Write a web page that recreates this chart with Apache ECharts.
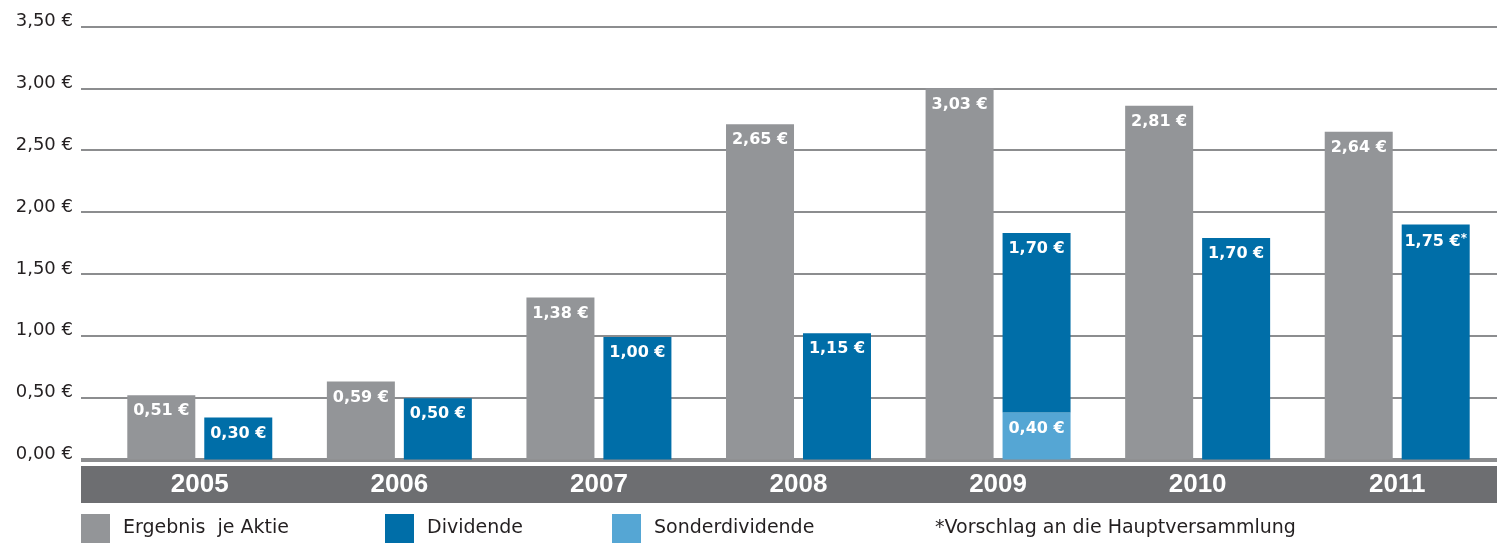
<!DOCTYPE html>
<html>
<head>
<meta charset="utf-8">
<script src="https://cdn.jsdelivr.net/npm/echarts@6/dist/echarts.min.js"></script>
<style>
  html, body { margin: 0; padding: 0; background: #ffffff; }
  #chart { width: 1497px; height: 543px; }
</style>
</head>
<body>
<div id="chart"></div>
<script>
// Categories
const years = ['2005', '2006', '2007', '2008', '2009', '2010', '2011'];

// Bar heights as drawn in the picture (EUR)
const ergebnis = [0.52, 0.63, 1.31, 2.71, 3.00, 2.86, 2.65];
const dividende = [0.34, 0.495, 0.99, 1.02, 1.45, 1.79, 1.90];
const sonderdividende = [null, null, null, null, 0.38, null, null];

// Printed value labels
const ergebnisLabels = ['0,51 €', '0,59 €', '1,38 €', '2,65 €', '3,03 €', '2,81 €', '2,64 €'];
const dividendeLabels = ['0,30 €', '0,50 €', '1,00 €', '1,15 €', '1,70 €', '1,70 €', '1,75 €*'];
const sonderLabels = ['', '', '', '', '0,40 €', '', ''];

// Y axis tick labels
const yTickLabels = ['0,00 €', '0,50 €', '1,00 €', '1,50 €', '2,00 €', '2,50 €', '3,00 €', '3,50 €'];

const legendNames = ['Ergebnis  je Aktie', 'Dividende', 'Sonderdividende'];
const footnote = '*Vorschlag an die Hauptversammlung';

const GRAY = '#939598';
const BLUE = '#006ea8';
const LIGHT = '#55a6d4';
const GRID = '#8c8d8f';
const BAND = '#6d6e71';
const TEXT = '#231f20';

const chart = echarts.init(document.getElementById('chart'), null, { renderer: 'canvas' });

function barLabel(labels) {
  return {
    show: true,
    position: 'insideTop',
    distance: 8,
    formatter: function (p) {
      const t = labels[p.dataIndex];
      if (!t) return '';
      if (t.endsWith('*')) return '{a|' + t.slice(0, -1) + '}{s|*}';
      return '{a|' + t + '}';
    },
    rich: {
      a: { color: '#ffffff', fontFamily: 'DejaVu Sans', fontWeight: 'bold', fontSize: 16 },
      s: { color: '#ffffff', fontFamily: 'DejaVu Sans', fontWeight: 'bold', fontSize: 12, padding: [0, 0, 7, 0] }
    }
  };
}

function legendBox(name, left) {
  return {
    data: [name], left: left, top: 514, padding: 0, icon: 'rect',
    itemWidth: 29, itemHeight: 29, selectedMode: false,
    textStyle: { color: TEXT, fontFamily: 'DejaVu Sans', fontSize: 19, padding: [0, 0, 0, 8] }
  };
}

const option = {
  animation: false,
  backgroundColor: '#ffffff',
  grid: [
    { left: 81, right: 0, top: 26.5, bottom: 83.5 },
    { left: 100, right: 0, top: 26.5, bottom: 83.5 },
    { left: 81, right: 0, top: 466, height: 37, show: true, backgroundColor: BAND, borderWidth: 0, z: -1 }
  ],
  xAxis: [
    {
      gridIndex: 0, type: 'category', data: years, position: 'bottom',
      axisLine: { show: true, lineStyle: { color: GRID, width: 4, cap: 'butt' } },
      axisTick: { show: false }, axisLabel: { show: false }, splitLine: { show: false }
    },
    {
      gridIndex: 1, type: 'category', data: years, position: 'bottom', z: 10,
      axisLine: { show: false }, axisTick: { show: false }, splitLine: { show: false },
      axisLabel: {
        show: true, margin: 12, color: '#ffffff',
        fontFamily: 'Liberation Sans', fontWeight: 'bold', fontSize: 26
      }
    },
    {
      gridIndex: 2, type: 'value', show: false
    }
  ],
  yAxis: [
    {
      gridIndex: 0, type: 'value', min: 0, max: 3.5, interval: 0.5,
      axisLine: { show: false }, axisTick: { show: false },
      splitLine: { show: true, lineStyle: { color: GRID, width: 2 } },
      axisLabel: {
        margin: 8, color: TEXT, fontFamily: 'DejaVu Sans', fontSize: 18,
        verticalAlign: 'bottom', lineHeight: 10,
        formatter: function (v) { return yTickLabels[Math.round(v / 0.5)]; }
      }
    },
    {
      gridIndex: 1, type: 'value', min: 0, max: 3.5, interval: 0.5, show: false,
      splitLine: { show: false }
    },
    {
      gridIndex: 2, type: 'value', show: false
    }
  ],
  legend: [
    legendBox(legendNames[0], 81),
    legendBox(legendNames[1], 385),
    legendBox(legendNames[2], 612)
  ],
  graphic: [
    {
      type: 'text', left: 935, top: 519,
      style: { text: footnote, fill: TEXT, font: '19px "DejaVu Sans"' }
    }
  ],
  series: [
    {
      name: legendNames[0], type: 'bar', xAxisIndex: 1, yAxisIndex: 1,
      data: ergebnis, barWidth: 68, barGap: '13.2%',
      itemStyle: { color: GRAY },
      label: barLabel(ergebnisLabels)
    },
    {
      name: legendNames[2], type: 'bar', xAxisIndex: 1, yAxisIndex: 1, stack: 'div',
      data: sonderdividende, barWidth: 68, barGap: '13.2%',
      itemStyle: { color: LIGHT },
      label: barLabel(sonderLabels)
    },
    {
      name: legendNames[1], type: 'bar', xAxisIndex: 1, yAxisIndex: 1, stack: 'div',
      data: dividende, barWidth: 68, barGap: '13.2%',
      itemStyle: { color: BLUE },
      label: barLabel(dividendeLabels)
    }
  ]
};

chart.setOption(option);
</script>
</body>
</html>
